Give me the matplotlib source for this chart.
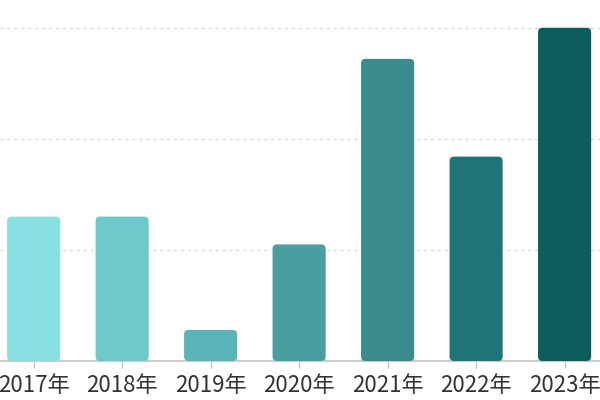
import matplotlib.pyplot as plt
from matplotlib.patches import FancyBboxPatch

plt.rcParams['font.family'] = ['Noto Sans CJK SC', 'DejaVu Sans']

years = ["2017年", "2018年", "2019年", "2020年", "2021年", "2022年", "2023年"]
values = [13.0, 13.0, 2.8, 10.5, 27.2, 18.4, 30.0]
colors = ["#8ae0e0", "#6ecaca", "#5ab5b8", "#4a9e9f", "#3a8c8c", "#1f7575", "#0c5e5e"]

fig = plt.figure(figsize=(6, 4), dpi=100)
ax = fig.add_axes([0, 0.0975, 1, 0.9025])

x = list(range(len(years)))
bars = ax.bar(x, values, width=0.6, color=colors)

ax.set_xlim(-0.38, 6.40)
ax.set_ylim(0, 32.5)

# swap plain rectangles for rounded ones
for b, c in zip(bars, colors):
    b.set_visible(False)
    p = FancyBboxPatch((b.get_x(), 0), b.get_width(), b.get_height(),
                       boxstyle="round,pad=0,rounding_size=0.05",
                       mutation_aspect=8.0, facecolor=c, edgecolor="none", zorder=3)
    ax.add_patch(p)

ax.set_yticks([10, 20, 30])
ax.yaxis.grid(True, color="#d9d9d9", linestyle=(0, (2, 3)), linewidth=1)
ax.set_axisbelow(True)
ax.tick_params(axis="y", left=False, labelleft=False)

ax.set_xticks(x)
ax.set_xticklabels(years, fontsize=16, color="#333333")
ax.tick_params(axis="x", length=5, color="#bbbbbb", pad=4)

for s in ["top", "right", "left"]:
    ax.spines[s].set_visible(False)
ax.spines["bottom"].set_color("#cccccc")
ax.spines["bottom"].set_linewidth(1.5)

fig.savefig("out.png", dpi=100)
